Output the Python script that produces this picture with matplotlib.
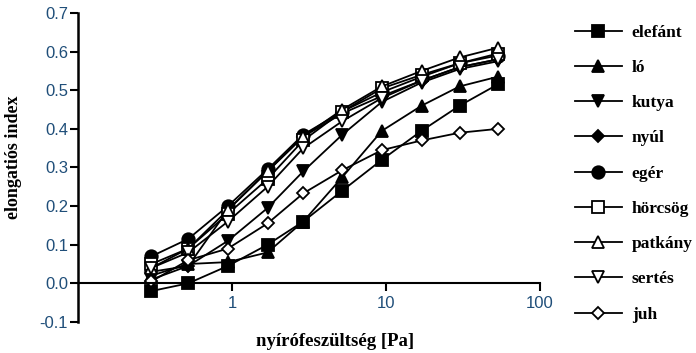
import numpy as np
import matplotlib
matplotlib.use('Agg')
import matplotlib.pyplot as plt
from matplotlib.ticker import FixedLocator, FormatStrFormatter, NullLocator

# shear stress [Pa]
stress = [0.3, 0.52, 0.94, 1.7, 2.9, 5.2, 9.4, 17, 30, 53]

elefant = [-0.02, 0.0, 0.045, 0.10, 0.16, 0.24, 0.32, 0.395, 0.46, 0.515]
lo = [0.02, 0.05, 0.055, 0.08, 0.16, 0.275, 0.395, 0.46, 0.51, 0.535]
kutya = [0.01, 0.045, 0.11, 0.195, 0.29, 0.385, 0.47, 0.52, 0.555, 0.575]
nyul = [0.03, 0.045, 0.19, 0.29, 0.38, 0.44, 0.485, 0.525, 0.56, 0.58]
eger = [0.07, 0.115, 0.20, 0.295, 0.385, 0.445, 0.495, 0.535, 0.57, 0.59]
horcsog = [0.05, 0.09, 0.18, 0.27, 0.37, 0.445, 0.505, 0.54, 0.57, 0.595]
patkany = [0.04, 0.09, 0.19, 0.29, 0.38, 0.45, 0.51, 0.55, 0.585, 0.61]
sertes = [0.04, 0.08, 0.16, 0.25, 0.35, 0.42, 0.48, 0.525, 0.56, 0.58]
juh = [0.005, 0.06, 0.09, 0.155, 0.233, 0.293, 0.345, 0.37, 0.39, 0.40]

series = [
    ('elefánt', elefant, 's', 'k', 9),
    ('ló', lo, '^', 'k', 9),
    ('kutya', kutya, 'v', 'k', 9),
    ('nyúl', nyul, 'D', 'k', 6.5),
    ('egér', eger, 'o', 'k', 9),
    ('hörcsög', horcsog, 's', 'white', 8),
    ('patkány', patkany, '^', 'white', 8),
    ('sertés', sertes, 'v', 'white', 8),
    ('juh', juh, 'D', 'white', 6.5),
]

plt.rcParams['axes.unicode_minus'] = False
tick_col = '#1f4e79'
serif_bold = {'family': 'Liberation Serif', 'weight': 'bold'}

fig = plt.figure(figsize=(6.96, 3.53), dpi=100)
ax = fig.add_axes([0.112, 0.088, 0.664, 0.875])

for name, vals, mk, fc, ms in series:
    ax.plot(stress, vals, color='k', linewidth=1.3, marker=mk,
            markerfacecolor=fc, markeredgecolor='k', markeredgewidth=1.3,
            markersize=ms, label=name)

ax.set_xscale('log')
ax.set_xlim(0.1, 100)
ax.set_ylim(-0.1, 0.7)

ax.spines['top'].set_visible(False)
ax.spines['right'].set_visible(False)
ax.spines['bottom'].set_position(('data', 0))
ax.spines['left'].set_linewidth(1.8)
ax.spines['bottom'].set_linewidth(1.5)

ax.xaxis.set_major_locator(FixedLocator([1, 10, 100]))
ax.xaxis.set_minor_locator(NullLocator())
ax.set_xticklabels(['1', '10', '100'])
ax.set_yticks(np.arange(-0.1, 0.71, 0.1))
ax.yaxis.set_major_formatter(FormatStrFormatter('%.1f'))
ax.tick_params(axis='both', direction='out', width=1.5, length=6,
               labelsize=12, labelcolor=tick_col,
               labelfontfamily='Liberation Sans')
ax.tick_params(axis='y', pad=1)
ax.tick_params(axis='x', pad=3)

ax.set_ylabel('elongatiós index', fontsize=13, **serif_bold)
ax.yaxis.set_label_coords(-0.12, 0.534)
ax.set_xlabel('nyírófeszültség [Pa]', fontsize=13.5, **serif_bold)
ax.xaxis.set_label_coords(0.556, -0.036)

leg = fig.legend(loc='upper left', bbox_to_anchor=(0.803, 0.975),
                 frameon=False, handlelength=2.75, labelspacing=1.1,
                 handletextpad=0.55,
                 prop={'family': 'Liberation Serif', 'weight': 'bold',
                       'size': 12.5})

fig.savefig('out.png', dpi=100)
